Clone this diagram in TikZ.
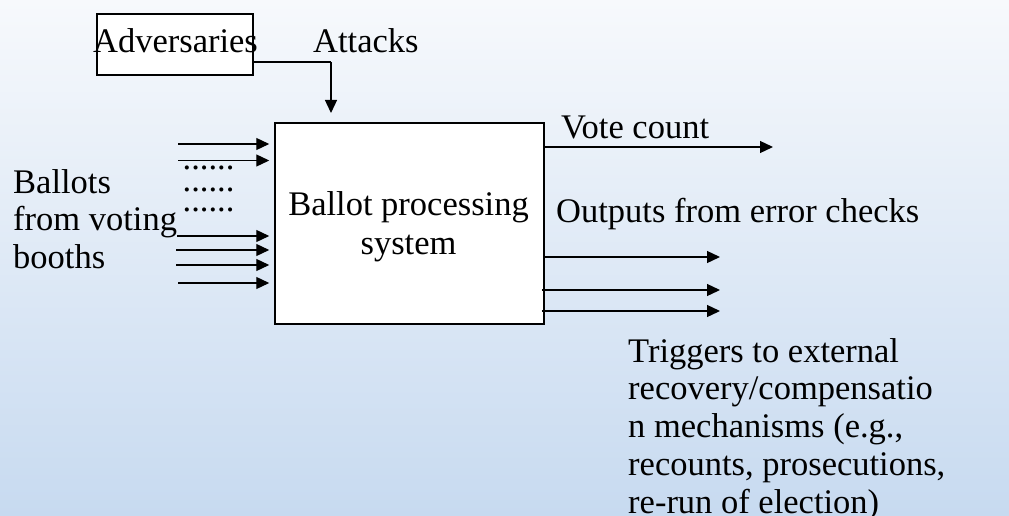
\documentclass[tikz,border=0pt]{standalone}
\usepackage{fontspec}
\setmainfont{Liberation Serif}
\usetikzlibrary{arrows.meta}
\definecolor{bgtop}{RGB}{247,249,252}
\definecolor{bgbot}{RGB}{199,218,240}
\tikzset{
  lbl/.style={inner sep=0pt, align=left, font=\fontsize{34.5pt}{37.75pt}\selectfont},
  flow/.style={line width=1.3pt, -{Triangle[length=13pt,width=12pt]}},
  plain/.style={line width=1.3pt},
  boxed/.style={draw, line width=1.5pt, fill=white, inner sep=0pt},
}
\begin{document}
\begin{tikzpicture}[x=1pt, y=-1pt]
  % background
  \useasboundingbox (0,0) rectangle (1009,516);
  \shade[top color=bgtop, bottom color=bgbot] (0,0) rectangle (1009,516);

  % main processing block
  \node[boxed, minimum width=269pt, minimum height=201pt] (bps) at (409.5,223.5) {};
  \node[inner sep=0pt, align=center, font=\fontsize{34.5pt}{39pt}\selectfont]
        (bpstxt) at ([shift={(-1,3.5)}]bps.center) {Ballot processing\\system};

  % adversaries block (label wider than its frame)
  \node[boxed, minimum width=156pt, minimum height=61pt] (adv) at (175,44.5) {};
  \node[lbl, anchor=base] (advtxt) at (175.5,53) {Adversaries};
  \node[lbl, anchor=base west] (atk) at (313,53) {Attacks};

  % attack path
  \coordinate (bend) at (331,62);
  \coordinate (atktip) at (331,113);
  \draw[plain] (adv.east |- bend) -- (bend);
  \draw[flow] (bend) -- (atktip);

  % incoming ballots (base anchor sits on the last line)
  \node[lbl, anchor=base west] (ballots) at (13,268.5) {Ballots\\from voting\\booths};
  \foreach \ys/\xs in {144/178, 160.5/178, 236/177, 250/176, 265/176, 283/178}
    \draw[flow] (\xs,\ys) -- ([xshift=-5pt]bps.west |- 0,\ys);
  \node[lbl, anchor=base west] (d1) at (182.5,169) {......};
  \node[lbl, anchor=base west] (d2) at (182.5,191) {......};
  \node[lbl, anchor=base west] (d3) at (182.5,211) {......};

  % outputs
  \coordinate (votetip) at (773,147);
  \draw[flow] (bps.east |- votetip) -- (votetip);
  \node[lbl, anchor=base west] (vote) at (561,139) {Vote count};
  \node[lbl, anchor=base west] (errs) at (556,222.5) {Outputs from error checks};
  \coordinate (e1) at (720,257);
  \coordinate (e2) at (720,290);
  \coordinate (e3) at (720,311);
  \draw[flow] (bps.east |- e1) -- (e1);
  \draw[flow, shorten <=-3pt] (bps.east |- e2) -- (e2);
  \draw[flow, shorten <=-3pt] (bps.east |- e3) -- (e3);

  \node[lbl, anchor=base west] (trig) at (628,513)
    {Triggers to external\\recovery/compensatio\\n mechanisms (e.g.,\\recounts, prosecutions,\\re-run of election)};
\end{tikzpicture}
\end{document}
